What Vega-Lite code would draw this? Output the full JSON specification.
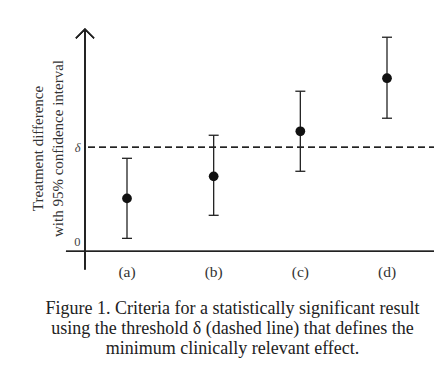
{
  "$schema": "https://vega.github.io/schema/vega-lite/v6.json",
  "autosize": {"type": "none"},
  "width": 377,
  "height": 254,
  "padding": {"left": 62, "top": 25, "right": 3, "bottom": 87},
  "background": "white",
  "config": {"view": {"stroke": null}},
  "title": {
    "text": ["Figure 1. Criteria for a statistically significant result", "using the threshold δ (dashed line) that defines the", "minimum clinically relevant effect."],
    "orient": "bottom",
    "frame": "group",
    "anchor": "middle",
    "baseline": "top",
    "font": "Liberation Serif",
    "fontSize": 18,
    "fontWeight": "normal",
    "color": "#222",
    "lineHeight": 20,
    "offset": 19,
    "dx": -18
  },
  "data": {
    "values": [
      {"cat": "(a)", "pos": 1, "est": 0.457, "lo": 0.032, "hi": 0.883},
      {"cat": "(b)", "pos": 2, "est": 0.691, "lo": 0.277, "hi": 1.128},
      {"cat": "(c)", "pos": 3, "est": 1.17, "lo": 0.745, "hi": 1.596},
      {"cat": "(d)", "pos": 4, "est": 1.734, "lo": 1.309, "hi": 2.17}
    ]
  },
  "layer": [
    {
      "mark": {"type": "rule", "color": "#222", "strokeWidth": 1.3},
      "encoding": {
        "x": {"datum": 0.515, "type": "quantitative", "scale": {"domain": [0.25, 4.6], "nice": false, "zero": false}, "axis": null},
        "y": {"datum": -0.3, "type": "quantitative", "scale": {"domain": [-0.4, 2.3], "nice": false, "zero": false},
          "axis": {
            "values": [0, 1],
            "labelExpr": "datum.value === 1 ? 'δ' : '0'",
            "domain": false, "ticks": false, "grid": false,
            "offset": -20,
            "labelPadding": 2,
            "labelFont": "Liberation Serif",
            "labelFontSize": 12.5,
            "labelColor": "#444",
            "labelFontStyle": {"condition": {"test": "datum.value === 1", "value": "italic"}, "value": "normal"},
            "title": ["Treatment difference", "with 95% confidence interval"],
            "titleFont": "Liberation Serif",
            "titleFontSize": 15,
            "titleFontWeight": "normal",
            "titleColor": "#333",
            "titleLineHeight": 20,
            "titlePadding": 8,
            "titleY": 123
          }
        },
        "y2": {"datum": 2.255}
      }
    },
    {
      "mark": {"type": "point", "shape": "M-1,1L0,0L1,1", "filled": false, "stroke": "#222", "strokeWidth": 1.3, "size": 324, "opacity": 1},
      "encoding": {
        "x": {"datum": 0.515, "type": "quantitative"},
        "y": {"datum": 2.255, "type": "quantitative"}
      }
    },
    {
      "mark": {"type": "rule", "color": "#222", "strokeWidth": 1.3},
      "encoding": {
        "x": {"datum": 0.296, "type": "quantitative"},
        "x2": {"datum": 4.542},
        "y": {"datum": -0.106, "type": "quantitative"}
      }
    },
    {
      "mark": {"type": "rule", "color": "#222", "strokeWidth": 1.3, "strokeDash": [7, 4]},
      "encoding": {
        "x": {"datum": 0.55, "type": "quantitative"},
        "x2": {"datum": 4.542},
        "y": {"datum": 1, "type": "quantitative"}
      }
    },
    {
      "mark": {"type": "rule", "color": "#222", "strokeWidth": 1.3},
      "encoding": {
        "x": {"field": "pos", "type": "quantitative"},
        "y": {"field": "lo", "type": "quantitative"},
        "y2": {"field": "hi"}
      }
    },
    {
      "mark": {"type": "tick", "orient": "horizontal", "size": 10, "thickness": 1.3, "color": "#222", "opacity": 1},
      "encoding": {
        "x": {"field": "pos", "type": "quantitative"},
        "y": {"field": "lo", "type": "quantitative"}
      }
    },
    {
      "mark": {"type": "tick", "orient": "horizontal", "size": 10, "thickness": 1.3, "color": "#222", "opacity": 1},
      "encoding": {
        "x": {"field": "pos", "type": "quantitative"},
        "y": {"field": "hi", "type": "quantitative"}
      }
    },
    {
      "mark": {"type": "circle", "size": 95, "color": "#111", "opacity": 1},
      "encoding": {
        "x": {"field": "pos", "type": "quantitative"},
        "y": {"field": "est", "type": "quantitative"}
      }
    },
    {
      "mark": {"type": "text", "font": "Liberation Serif", "fontSize": 15.5, "color": "#333", "baseline": "middle", "align": "center"},
      "encoding": {
        "x": {"field": "pos", "type": "quantitative"},
        "y": {"datum": -0.33, "type": "quantitative"},
        "text": {"field": "cat"}
      }
    }
  ]
}
